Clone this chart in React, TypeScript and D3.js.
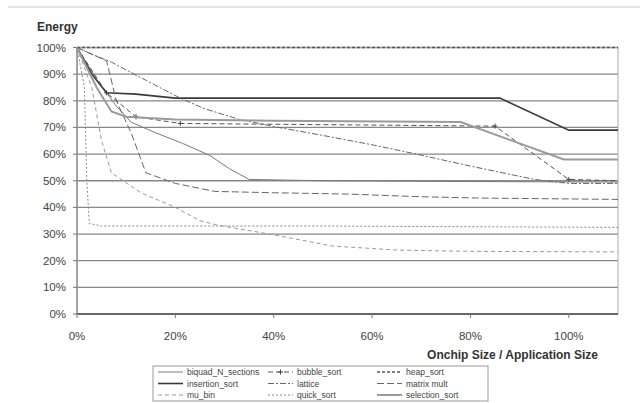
import * as d3 from 'd3';

// legend order (alphabetical, row-major like the original)
const seriesNames = [
  'biquad_N_sections', 'bubble_sort', 'heap_sort',
  'insertion_sort', 'lattice', 'matrix mult',
  'mu_bin', 'quick_sort', 'selection_sort',
];

// x = onchip size / application size, y = energy (fractions)
const biquadX = [0, 0.04, 0.08, 0.11, 0.16, 0.215, 0.27, 0.31, 0.35, 0.5, 0.8, 1.1];
const biquadY = [1, 0.88, 0.78, 0.72, 0.68, 0.64, 0.595, 0.545, 0.505, 0.5, 0.497, 0.495];

const bubbleX = [0, 0.06, 0.12, 0.21, 0.85, 1.0, 1.1];
const bubbleY = [1, 0.83, 0.74, 0.715, 0.705, 0.505, 0.5];

const heapX = [0, 0.02, 0.05, 0.1, 0.2, 0.4, 0.6, 0.8, 1.0, 1.1];
const heapY = [1, 1, 1, 1, 1, 1, 1, 1, 1, 1];

const insertionX = [0, 0.03, 0.06, 0.12, 0.2, 0.5, 0.86, 1.0, 1.1];
const insertionY = [1, 0.9, 0.83, 0.825, 0.81, 0.81, 0.81, 0.69, 0.69];

const latticeX = [0, 0.03, 0.07, 0.14, 0.21, 0.26, 0.33, 0.41, 0.5, 0.6, 0.69, 0.8, 0.93, 1.0, 1.1];
const latticeY = [1, 0.975, 0.945, 0.877, 0.81, 0.77, 0.73, 0.7, 0.67, 0.635, 0.6, 0.555, 0.505, 0.49, 0.49];

const matrixX = [0, 0.06, 0.08, 0.11, 0.13, 0.14, 0.2, 0.28, 0.4, 0.55, 0.7, 0.82, 1.1];
const matrixY = [1, 0.95, 0.8, 0.68, 0.58, 0.53, 0.49, 0.46, 0.455, 0.45, 0.44, 0.435, 0.43];

const muBinX = [0, 0.03, 0.05, 0.07, 0.13, 0.2, 0.25, 0.285, 0.4, 0.52, 0.65, 0.8, 1.1];
const muBinY = [1, 0.85, 0.65, 0.53, 0.455, 0.4, 0.35, 0.334, 0.297, 0.255, 0.24, 0.235, 0.233];

const quickX = [0, 0.015, 0.02, 0.025, 0.05, 0.5, 1.1];
const quickY = [1, 0.85, 0.5, 0.34, 0.33, 0.33, 0.325];

const selectionX = [0, 0.04, 0.07, 0.1, 0.2, 0.4, 0.78, 0.99, 1.1];
const selectionY = [1, 0.85, 0.76, 0.74, 0.73, 0.725, 0.72, 0.58, 0.58];

const yTicks = [0, 0.1, 0.2, 0.3, 0.4, 0.5, 0.6, 0.7, 0.8, 0.9, 1];
const xTicks = [0, 0.2, 0.4, 0.6, 0.8, 1];

const seriesX = [biquadX, bubbleX, heapX, insertionX, latticeX, matrixX, muBinX, quickX, selectionX];
const seriesY = [biquadY, bubbleY, heapY, insertionY, latticeY, matrixY, muBinY, quickY, selectionY];

const styles = [
  { stroke: '#7a7a7a', width: 1, dash: '' },
  { stroke: '#555', width: 1, dash: '5,3' },
  { stroke: '#555', width: 1.3, dash: '3,2' },
  { stroke: '#3a3a3a', width: 1.6, dash: '' },
  { stroke: '#666', width: 1, dash: '6,2,2,2' },
  { stroke: '#666', width: 1, dash: '7,3' },
  { stroke: '#999', width: 1, dash: '4,3' },
  { stroke: '#888', width: 1, dash: '2,2' },
  { stroke: '#9a9a9a', width: 2, dash: '' },
];

const W = 642;
const H = 403;
const font = 'Liberation Sans, Arial, sans-serif';

export default function App() {
  const x = d3.scaleLinear().domain([0, 1.1]).range([77, 618]);
  const y = d3.scaleLinear().domain([0, 1]).range([314, 47.5]);
  const line = d3.line<[number, number]>().x(d => x(d[0])).y(d => y(d[1]));
  const pct = d3.format('.0%');

  return (
    <svg width={W} height={H} style={{ position: 'absolute', left: 0, top: 0, background: '#fff' }}
      fontFamily={font}>
      <line x1={8} x2={640} y1={7} y2={7} stroke="#e2e2e2" strokeWidth={2} />

      {/* gridlines */}
      {yTicks.map(t => (
        <line key={'g' + t} x1={x(0)} x2={x(1.1)} y1={y(t)} y2={y(t)}
          stroke="#888" strokeWidth={1.3} />
      ))}
      <rect x={x(0)} y={y(1)} width={x(1.1) - x(0)} height={y(0) - y(1)}
        fill="none" stroke="#aaa" strokeWidth={1} />
      <line x1={x(0)} x2={x(1.1)} y1={y(0)} y2={y(0)} stroke="#555" strokeWidth={1.6} />
      <line x1={x(0)} x2={x(0)} y1={y(0)} y2={y(1)} stroke="#888" strokeWidth={1.3} />

      {/* ticks */}
      {yTicks.map(t => (
        <g key={'y' + t}>
          <line x1={x(0) - 4} x2={x(0)} y1={y(t)} y2={y(t)} stroke="#777" />
          <text x={66} y={y(t) + 4} textAnchor="end" fontSize={11.5} fill="#444">{pct(t)}</text>
        </g>
      ))}
      {xTicks.map(t => (
        <g key={'x' + t}>
          <line x1={x(t)} x2={x(t)} y1={y(0)} y2={y(0) + 4} stroke="#777" />
          <text x={x(t)} y={340} textAnchor="middle" fontSize={11.5} fill="#444">{pct(t)}</text>
        </g>
      ))}

      <text x={37} y={31} fontSize={12} fontWeight="bold" fill="#333">Energy</text>
      <text x={598} y={359} textAnchor="end" fontSize={12} fontWeight="bold" fill="#333">
        Onchip Size / Application Size
      </text>

      {/* series */}
      {seriesNames.map((n, i) => {
        const pts = seriesX[i].map((v, j) => [v, seriesY[i][j]] as [number, number]);
        const s = styles[i];
        return (
          <g key={n}>
            <path d={line(pts) || ''} fill="none" stroke={s.stroke} strokeWidth={s.width}
              strokeDasharray={s.dash || undefined} />
            {n === 'bubble_sort' && pts.slice(1, -1).map((p, j) => (
              <path key={j} d={`M${x(p[0]) - 2.5},${y(p[1])}h5M${x(p[0])},${y(p[1]) - 2.5}v5`}
                stroke="#444" strokeWidth={1} />
            ))}
          </g>
        );
      })}

      {/* legend */}
      <rect x={153} y={366} width={335} height={35} fill="#fff" stroke="#999" />
      {seriesNames.map((n, i) => {
        const col = i % 3;
        const row = Math.floor(i / 3);
        const lx = [158, 268, 377][col];
        const ly = 372 + row * 11.5;
        const s = styles[i];
        return (
          <g key={'l' + n}>
            <line x1={lx} x2={lx + 25} y1={ly} y2={ly} stroke={s.stroke} strokeWidth={s.width}
              strokeDasharray={s.dash || undefined} />
            {n === 'bubble_sort' && (
              <path d={`M${lx + 10},${ly}h5M${lx + 12.5},${ly - 2.5}v5`} stroke="#444" />
            )}
            <text x={lx + 29} y={ly + 3} fontSize={8.5} fill="#444">{n}</text>
          </g>
        );
      })}
    </svg>
  );
}
